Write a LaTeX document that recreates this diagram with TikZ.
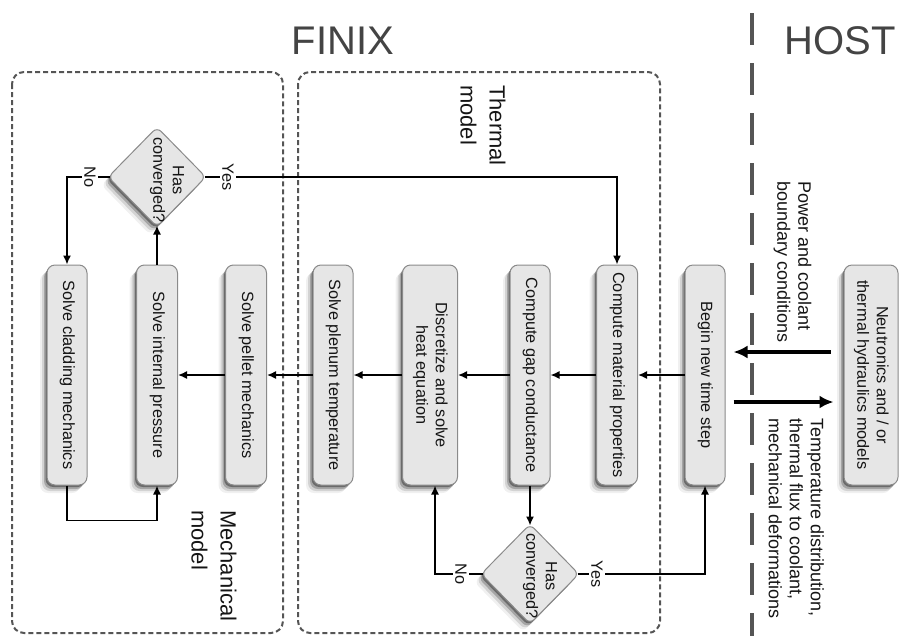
\documentclass[tikz,border=0pt]{standalone}
\usepackage{fontspec}
\setmainfont{Liberation Sans}
\usepackage{graphicx}
\usetikzlibrary{shapes.geometric,shadows,arrows.meta}
\definecolor{boxfill}{HTML}{E6E6E6}
\definecolor{boxline}{HTML}{8A8A8A}
\definecolor{textc}{HTML}{151515}
\definecolor{titlec}{HTML}{444444}
\definecolor{framec}{HTML}{555555}
\newcommand{\rtext}[2][c]{\rotatebox{-90}{\begin{tabular}{@{}#1@{}}#2\end{tabular}}}
\begin{document}
\begin{tikzpicture}[x=1pt,y=-1pt,
  shadowy/.style={
    drop shadow={shadow xshift=-1.5pt,shadow yshift=-2pt,opacity=.35,fill=black},
    drop shadow={shadow xshift=-3pt,shadow yshift=-4pt,opacity=.22,fill=black},
    drop shadow={shadow xshift=-5pt,shadow yshift=-6pt,opacity=.12,fill=black},
    drop shadow={shadow xshift=-7pt,shadow yshift=-8pt,opacity=.06,fill=black}},
  procbox/.style={draw=boxline, fill=boxfill, rounded corners=8pt, line width=1pt,
    minimum height=220pt, inner sep=2pt, text=textc,
    font=\fontsize{16.3}{19.5}\selectfont, shadowy},
  decision/.style={diamond, draw=boxline, fill=boxfill, rounded corners=6pt, line width=1pt,
    minimum width=98pt, minimum height=100pt, inner sep=0pt, shadowy},
  dtext/.style={inner sep=0pt, text=textc, font=\fontsize{16.3}{19.5}\selectfont},
  yn/.style={fill=white, inner sep=2pt, text=textc, font=\fontsize{16.3}{19.5}\selectfont},
  conn/.style={line width=1.5pt, draw=black, -{Latex[length=9pt,width=8pt]}},
  bigarrow/.style={line width=3.2pt, draw=black, -{Latex[length=14pt,width=13pt]}},
  frame/.style={draw=framec, line width=2pt, dash pattern=on 5pt off 3pt, rounded corners=12pt},
  hostline/.style={draw=framec, line width=3.5pt, dash pattern=on 32pt off 18pt},
  title/.style={anchor=base, text=titlec, font=\fontsize{40}{44}\selectfont, inner sep=0pt},
  sidetext/.style={anchor=north, inner sep=0pt, text=textc, font=\fontsize{18}{21}\selectfont},
  modeltext/.style={anchor=north, inner sep=0pt, text=textc, font=\fontsize{22}{29}\selectfont}
]
\useasboundingbox (0,0) rectangle (899,635);

% titles and frames
\node[title] (finix) at (343,54) {FINIX};
\node[title] (host) at (840,54) {HOST};
\draw[hostline] (752,13) -- (752,640);
\draw[frame] (12,72) rectangle (283,633);
\draw[frame] (298,72) rectangle (660,633);

\node[modeltext] (tm) at (481,85) {\rtext[l]{Thermal\\model}};
\node[modeltext] (mm) at (212,510) {\rtext[l]{Mechanical\\model}};
\node[sidetext] (pc) at (792,181) {\rtext[l]{Power and coolant\\boundary conditions}};
\node[sidetext] (td) at (794,418) {\rtext[l]{Temperature distribution,\\thermal flux to coolant,\\mechanical deformations}};

% process boxes
\node[procbox, minimum width=40pt] (clad) at (67,375) {\rtext{Solve cladding mechanics}};
\node[procbox, minimum width=41pt] (press) at (157,375) {\rtext{Solve internal pressure}};
\node[procbox, minimum width=41pt] (pellet) at (246,375) {\rtext{Solve pellet mechanics}};
\node[procbox, minimum width=40pt] (plenum) at (333,375) {\rtext{Solve plenum temperature}};
\node[procbox, minimum width=55pt] (disc) at (430,375) {\rtext{Discretize and solve\\heat equation}};
\node[procbox, minimum width=40pt] (gap) at (530,375) {\rtext{Compute gap conductance}};
\node[procbox, minimum width=41pt] (mat) at (617,375) {\rtext{Compute material properties}};
\node[procbox, minimum width=40pt] (begin) at (705,375) {\rtext{Begin new time step}};
\node[procbox, minimum width=54pt] (neut) at (871,375) {\rtext{Neutronics and / or\\thermal hydraulics models}};

% decisions
\node[decision] (d1) at (157,177) {};
\node[dtext] (d1t) at (167,180) {\rtext{Has\\converged?}};
\node[decision] (d2) at (530,574) {};
\node[dtext] (d2t) at (540,576) {\rtext{Has\\converged?}};

% main chain
\draw[conn] (begin) -- (mat);
\draw[conn] (mat) -- (gap);
\draw[conn] (gap) -- (disc);
\draw[conn] (disc) -- (plenum);
\draw[conn] (plenum) -- (pellet);
\draw[conn] (pellet) -- (press);

% mechanical loop
\draw[conn, shorten >=-2pt] (press.north) -- (press.north |- d1.south);
\draw[conn, shorten <=-2pt] (d1.west) -| (clad.north);
\draw[conn, shorten <=-2pt] (d1.east) -| (mat.north);
\draw[conn] (clad.south) -- ++(0,35) -| (press.south);

% thermal loop
\draw[conn, shorten >=-2pt] (gap.south) -- (gap.south |- d2.north);
\coordinate (discin) at ([xshift=5pt]disc.south);
\draw[conn, shorten <=-2pt] (d2.west) -| (discin);
\draw[conn, shorten <=-2pt] (d2.east) -| (begin.south);

% host exchange
\path (neut.west) ++(-13,-23) coordinate (h1s);
\path (begin.east) ++(8,-23) coordinate (h1e);
\path (begin.east) ++(8,27) coordinate (h2s);
\path (neut.west) ++(-10,27) coordinate (h2e);
\draw[bigarrow] (h1s) -- (h1e);
\draw[bigarrow] (h2s) -- (h2e);

% yes / no labels
\node[yn] (no1) at (90,177) {\rotatebox{-90}{No}};
\node[yn] (yes1) at (228,177) {\rotatebox{-90}{Yes}};
\node[yn] (no2) at (461,574) {\rotatebox{-90}{No}};
\node[yn] (yes2) at (597,574) {\rotatebox{-90}{Yes}};
\end{tikzpicture}
\end{document}
